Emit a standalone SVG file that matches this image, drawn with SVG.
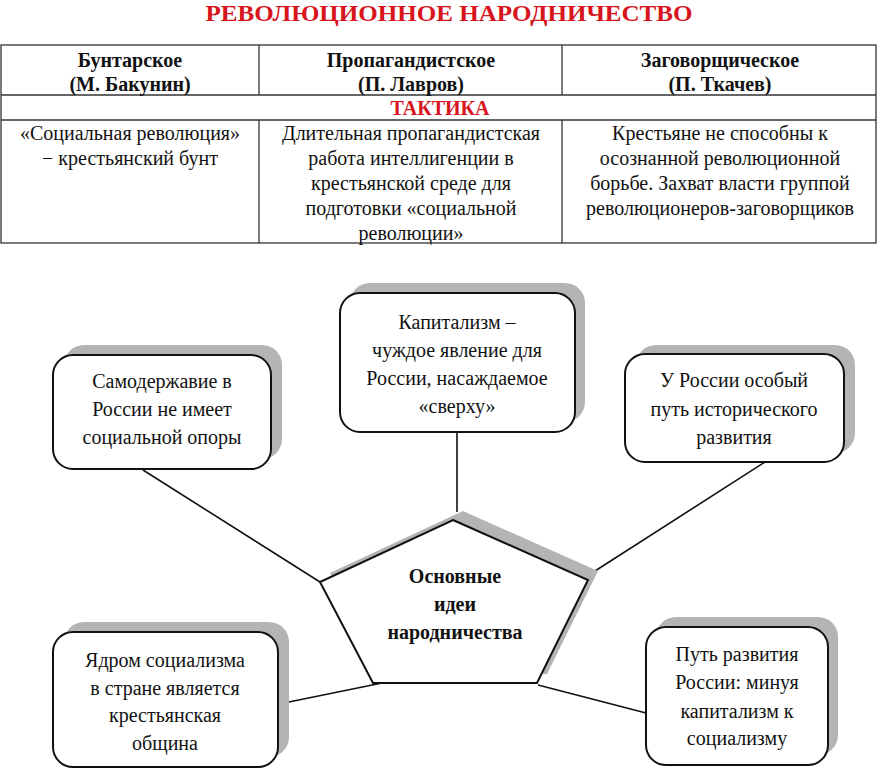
<svg xmlns="http://www.w3.org/2000/svg" width="878" height="768" viewBox="0 0 878 768" font-family="Liberation Serif, serif">
<defs>
<rect id="bg" width="878" height="768" fill="#fff"/>
</defs>
<use href="#bg"/>
<text x="449" y="21" font-family="Liberation Serif" font-size="24" font-weight="bold" fill="#d8141c" text-anchor="middle" textLength="487" lengthAdjust="spacingAndGlyphs">РЕВОЛЮЦИОННОЕ НАРОДНИЧЕСТВО</text>
<g id="table" font-family="Liberation Serif" font-size="20" fill="#111" text-anchor="middle">
<g stroke="#333" stroke-width="1.3" fill="none">
<rect x="1" y="45" width="875" height="198"/>
<line x1="1" y1="95" x2="876" y2="95"/>
<line x1="1" y1="120" x2="876" y2="120"/>
<line x1="259" y1="45" x2="259" y2="95"/>
<line x1="562" y1="45" x2="562" y2="95"/>
<line x1="259" y1="120" x2="259" y2="243"/>
<line x1="562" y1="120" x2="562" y2="243"/>
</g>
<g font-weight="bold">
<text x="130" y="67">Бунтарское</text>
<text x="130" y="91">(М. Бакунин)</text>
<text x="411" y="67">Пропагандистское</text>
<text x="411" y="91">(П. Лавров)</text>
<text x="720" y="67">Заговорщическое</text>
<text x="720" y="91">(П. Ткачев)</text>
<text x="440" y="115" fill="#d8141c">ТАКТИКА</text>
</g>
<text x="130" y="140">«Социальная революция»</text>
<text x="130" y="165">− крестьянский бунт</text>
<text x="411" y="140">Длительная пропагандистская</text>
<text x="411" y="165">работа интеллигенции в</text>
<text x="411" y="190">крестьянской среде для</text>
<text x="411" y="215">подготовки «социальной</text>
<text x="411" y="240">революции»</text>
<text x="720" y="140">Крестьяне не способны к</text>
<text x="720" y="165">осознанной революционной</text>
<text x="720" y="190">борьбе. Захват власти группой</text>
<text x="720" y="215">революционеров-заговорщиков</text>
</g>
<g id="connectors" stroke="#111" stroke-width="1.6" fill="none">
<line x1="143" y1="470" x2="320" y2="582"/>
<line x1="457" y1="432" x2="457" y2="512"/>
<line x1="765" y1="462" x2="595" y2="571"/>
<line x1="279" y1="704" x2="382" y2="683"/>
<line x1="538" y1="685" x2="646" y2="713"/>
</g>
<g id="center" font-family="Liberation Serif" font-size="20" font-weight="bold" fill="#111" text-anchor="middle">
<polygon fill="#b4b4b4" points="463,511 598,571 547,674 383,674 330,573"/>
<polygon fill="#fff" stroke="#111" stroke-width="2" points="453,520 588,580 537,683 373,683 320,582"/>
<text x="455" y="583">Основные</text>
<text x="455" y="611">идеи</text>
<text x="455" y="639">народничества</text>
</g>
<g id="n1" font-family="Liberation Serif" font-size="20" fill="#111" text-anchor="middle">
<rect fill="#b4b4b4" x="64" y="345" width="218" height="114" rx="20"/>
<rect fill="#fff" stroke="#111" stroke-width="2" x="53" y="355" width="218" height="114" rx="20"/>
<text x="162" y="388">Самодержавие в</text>
<text x="162" y="416">России не имеет</text>
<text x="162" y="444">социальной опоры</text>
</g>
<g id="n2" font-family="Liberation Serif" font-size="20" fill="#111" text-anchor="middle">
<rect fill="#b4b4b4" x="350" y="283" width="235" height="139" rx="20"/>
<rect fill="#fff" stroke="#111" stroke-width="2" x="340" y="293" width="235" height="139" rx="20"/>
<text x="457" y="329">Капитализм –</text>
<text x="457" y="357">чуждое явление для</text>
<text x="457" y="385">России, насаждаемое</text>
<text x="457" y="413">«сверху»</text>
</g>
<g id="n3" font-family="Liberation Serif" font-size="20" fill="#111" text-anchor="middle">
<rect fill="#b4b4b4" x="636" y="345" width="219" height="108" rx="20"/>
<rect fill="#fff" stroke="#111" stroke-width="2" x="625" y="354" width="219" height="108" rx="20"/>
<text x="734" y="387">У России особый</text>
<text x="734" y="416">путь исторического</text>
<text x="734" y="444">развития</text>
</g>
<g id="n4" font-family="Liberation Serif" font-size="20" fill="#111" text-anchor="middle">
<rect fill="#b4b4b4" x="64" y="622" width="225" height="135" rx="20"/>
<rect fill="#fff" stroke="#111" stroke-width="2" x="53" y="632" width="225" height="135" rx="20"/>
<text x="165" y="667">Ядром социализма</text>
<text x="165" y="695">в стране является</text>
<text x="165" y="722">крестьянская</text>
<text x="165" y="750">община</text>
</g>
<g id="n5" font-family="Liberation Serif" font-size="20" fill="#111" text-anchor="middle">
<rect fill="#b4b4b4" x="656" y="617" width="182" height="138" rx="20"/>
<rect fill="#fff" stroke="#111" stroke-width="2" x="646" y="627" width="182" height="138" rx="20"/>
<text x="737" y="661">Путь развития</text>
<text x="737" y="689">России: минуя</text>
<text x="737" y="718">капитализм к</text>
<text x="737" y="745">социализму</text>
</g>
</svg>
